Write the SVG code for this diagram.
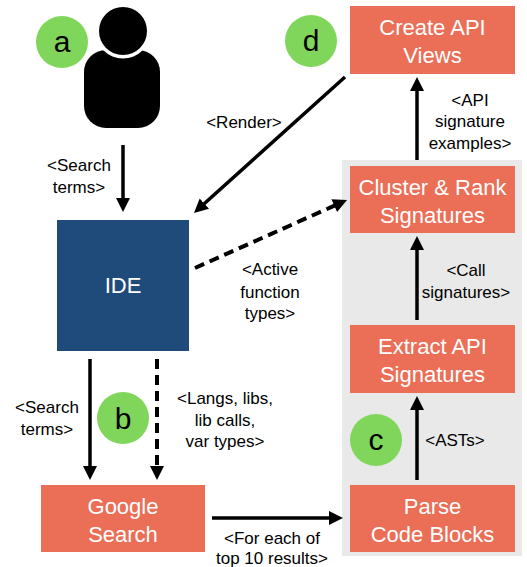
<svg xmlns="http://www.w3.org/2000/svg" width="527" height="567" viewBox="0 0 527 567">
<defs>
<marker id="ah" markerUnits="userSpaceOnUse" markerWidth="16" markerHeight="16" refX="4" refY="7" orient="auto">
<path d="M0,0 L14,7 L0,14 z" fill="#000"/>
</marker>
<style>
.box{fill:#eb6e57;}
.bt{font-family:"Liberation Sans",Arial,sans-serif;font-size:22px;fill:#fff;text-anchor:middle;}
.lb{font-family:"Liberation Sans",Arial,sans-serif;font-size:17px;fill:#000;text-anchor:middle;}
.badge{fill:#80d65a;}
.bl{font-family:"Liberation Sans",Arial,sans-serif;font-size:30px;fill:#000;text-anchor:middle;}
.ln{stroke:#000;stroke-width:3.5;fill:none;marker-end:url(#ah);}
.dl{stroke:#000;stroke-width:4;fill:none;stroke-dasharray:10,6;marker-end:url(#ah);}
</style>
</defs>
<rect width="527" height="567" fill="#fff"/>
<rect id="panel" x="342" y="160" width="180" height="396" fill="#e9e9e9"/>

<g id="user">
<rect x="84" y="50" width="76" height="78" rx="22" fill="#000"/>
<circle cx="123" cy="31" r="27.5" fill="#fff"/>
<circle cx="123" cy="31" r="24" fill="#000"/>
</g>

<g id="ide">
<rect x="57" y="220" width="132" height="131" fill="#1f4b7a"/>
<text class="bt" x="123" y="293">IDE</text>
</g>

<g id="create">
<rect class="box" x="350" y="6" width="165" height="68"/>
<text class="bt" x="432.5" y="35">Create API</text>
<text class="bt" x="432.5" y="63">Views</text>
</g>

<g id="cluster">
<rect class="box" x="350" y="166" width="165" height="67"/>
<text class="bt" x="432.5" y="195">Cluster &amp; Rank</text>
<text class="bt" x="432.5" y="223">Signatures</text>
</g>

<g id="extract">
<rect class="box" x="350" y="325" width="165" height="68"/>
<text class="bt" x="432.5" y="354">Extract API</text>
<text class="bt" x="432.5" y="382">Signatures</text>
</g>

<g id="parse">
<rect class="box" x="350" y="485" width="165" height="67"/>
<text class="bt" x="432.5" y="514">Parse</text>
<text class="bt" x="432.5" y="542">Code Blocks</text>
</g>

<g id="google">
<rect class="box" x="41" y="485" width="164" height="67"/>
<text class="bt" x="123" y="514">Google</text>
<text class="bt" x="123" y="542">Search</text>
</g>

<g id="badges">
<circle class="badge" cx="62" cy="42" r="26"/>
<text class="bl" x="62" y="52">a</text>
<circle class="badge" cx="311" cy="41" r="26"/>
<text class="bl" x="311" y="51">d</text>
<circle class="badge" cx="123" cy="418" r="26"/>
<text class="bl" x="123" y="429">b</text>
<circle class="badge" cx="376" cy="440" r="26"/>
<text class="bl" x="376" y="450">c</text>
</g>

<g id="connectors">
<line class="ln" x1="123" y1="145" x2="123" y2="202"/>
<line class="ln" x1="345" y1="77" x2="201.4" y2="206.3"/>
<line class="dl" x1="195" y1="268" x2="337.9" y2="204.1"/>
<line class="ln" x1="90" y1="359" x2="90" y2="470"/>
<line class="dl" x1="157" y1="359" x2="157" y2="470"/>
<line class="ln" x1="212" y1="518" x2="333" y2="518"/>
<line class="ln" x1="417" y1="480" x2="417" y2="406"/>
<line class="ln" x1="417" y1="320" x2="417" y2="246"/>
<line class="ln" x1="417" y1="160" x2="417" y2="87"/>
</g>

<g id="labels">
<text class="lb" x="79" y="171">&lt;Search</text>
<text class="lb" x="79" y="193">terms&gt;</text>
<text class="lb" x="244" y="128">&lt;Render&gt;</text>
<text class="lb" x="270" y="275">&lt;Active</text>
<text class="lb" x="270" y="298">function</text>
<text class="lb" x="270" y="319">types&gt;</text>
<text class="lb" x="47" y="413">&lt;Search</text>
<text class="lb" x="47" y="435">terms&gt;</text>
<text class="lb" x="225" y="404">&lt;Langs, libs,</text>
<text class="lb" x="225" y="426">lib calls,</text>
<text class="lb" x="225" y="447">var types&gt;</text>
<text class="lb" x="272" y="544">&lt;For each of</text>
<text class="lb" x="272" y="564">top 10 results&gt;</text>
<text class="lb" x="455" y="446">&lt;ASTs&gt;</text>
<text class="lb" x="466" y="276">&lt;Call</text>
<text class="lb" x="466" y="298">signatures&gt;</text>
<text class="lb" x="470" y="106">&lt;API</text>
<text class="lb" x="470" y="127">signature</text>
<text class="lb" x="470" y="149">examples&gt;</text>
</g>
</svg>
